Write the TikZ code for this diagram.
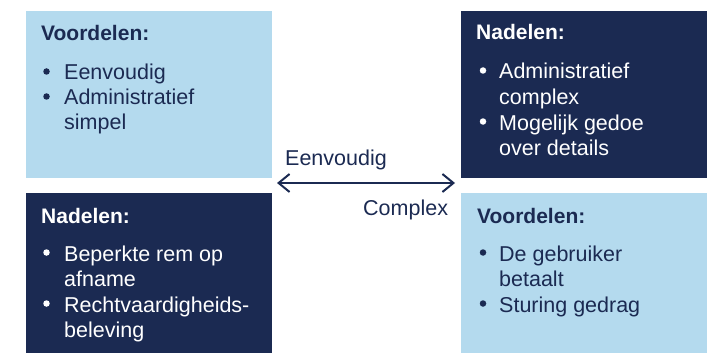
\documentclass[tikz,border=0pt]{standalone}
\usepackage{fontspec}
\setmainfont{Liberation Sans}
\usetikzlibrary{arrows.meta}
\definecolor{lightblue}{HTML}{B4DAEE}
\definecolor{navy}{HTML}{1B2A52}
\begin{document}
\begin{tikzpicture}[x=1pt,y=-1pt,
  panel/.style={anchor=north west, inner sep=0pt, outer sep=0pt, minimum width=246pt},
  lightpanel/.style={panel, fill=lightblue},
  darkpanel/.style={panel, fill=navy},
  txt/.style={anchor=base west, inner sep=0pt, font=\fontsize{21.5}{24}\selectfont},
  head/.style={txt, font=\fontsize{21}{24}\selectfont\bfseries},
  bul/.style={circle, inner sep=0pt, minimum size=6.5pt},
  ondark/.style={text=white, fill=white},
  onlight/.style={text=navy, fill=navy},
  tip/.tip={Straight Barb[length=11pt,width=18pt]},
]
\useasboundingbox (0,0) rectangle (718,353);

% four panels
\node[lightpanel, minimum height=167pt] (tl) at (26,11) {};
\node[darkpanel,  minimum height=160pt] (bl) at (26,193) {};
\node[darkpanel,  minimum height=167pt] (tr) at (461,11) {};
\node[lightpanel, minimum height=160pt] (br) at (461,193) {};

% top left: advantages
\node[head, text=navy] (tlh) at (41,41) {Voordelen:};
\node[bul, onlight] (tlb1) at (46.5,71.5) {};
\node[txt, text=navy] (tlt1) at (64,80) {Eenvoudig};
\node[bul, onlight] (tlb2) at (46.5,96.5) {};
\node[txt, text=navy] (tlt2) at (64,105) {Administratief};
\node[txt, text=navy] (tlt3) at (64,129) {simpel};

% top right: disadvantages
\node[head, text=white] (trh) at (476,40) {Nadelen:};
\node[bul, ondark] (trb1) at (483,70.5) {};
\node[txt, text=white] (trt1) at (499,79) {Administratief};
\node[txt, text=white] (trt2) at (499,104) {complex};
\node[bul, ondark] (trb2) at (483,121.5) {};
\node[txt, text=white] (trt3) at (499,130) {Mogelijk gedoe};
\node[txt, text=white] (trt4) at (499,155) {over details};

% bottom left: disadvantages
\node[head, text=white] (blh) at (41,223) {Nadelen:};
\node[bul, ondark] (blb1) at (46.5,252.5) {};
\node[txt, text=white] (blt1) at (64,261) {Beperkte rem op};
\node[txt, text=white] (blt2) at (64,286) {afname};
\node[bul, ondark] (blb2) at (46.5,303.5) {};
\node[txt, text=white] (blt3) at (64,312) {Rechtvaardigheids-};
\node[txt, text=white] (blt4) at (64,337) {beleving};

% bottom right: advantages
\node[head, text=navy] (brh) at (477,223) {Voordelen:};
\node[bul, onlight] (brb1) at (483,252.5) {};
\node[txt, text=navy] (brt1) at (499,261) {De gebruiker};
\node[txt, text=navy] (brt2) at (499,286) {betaalt};
\node[bul, onlight] (brb2) at (483,303.5) {};
\node[txt, text=navy] (brt3) at (499,312) {Sturing gedrag};

% scale between simple and complex
\coordinate (aL) at (277,183);
\coordinate (aR) at (455,183);
\draw[navy, line width=2pt, tip-tip] (aL) -- (aR);
\node[txt, text=navy] (simple) at (285,165) {Eenvoudig};
\node[txt, text=navy] (complex) at (363,215) {Complex};
\end{tikzpicture}
\end{document}
